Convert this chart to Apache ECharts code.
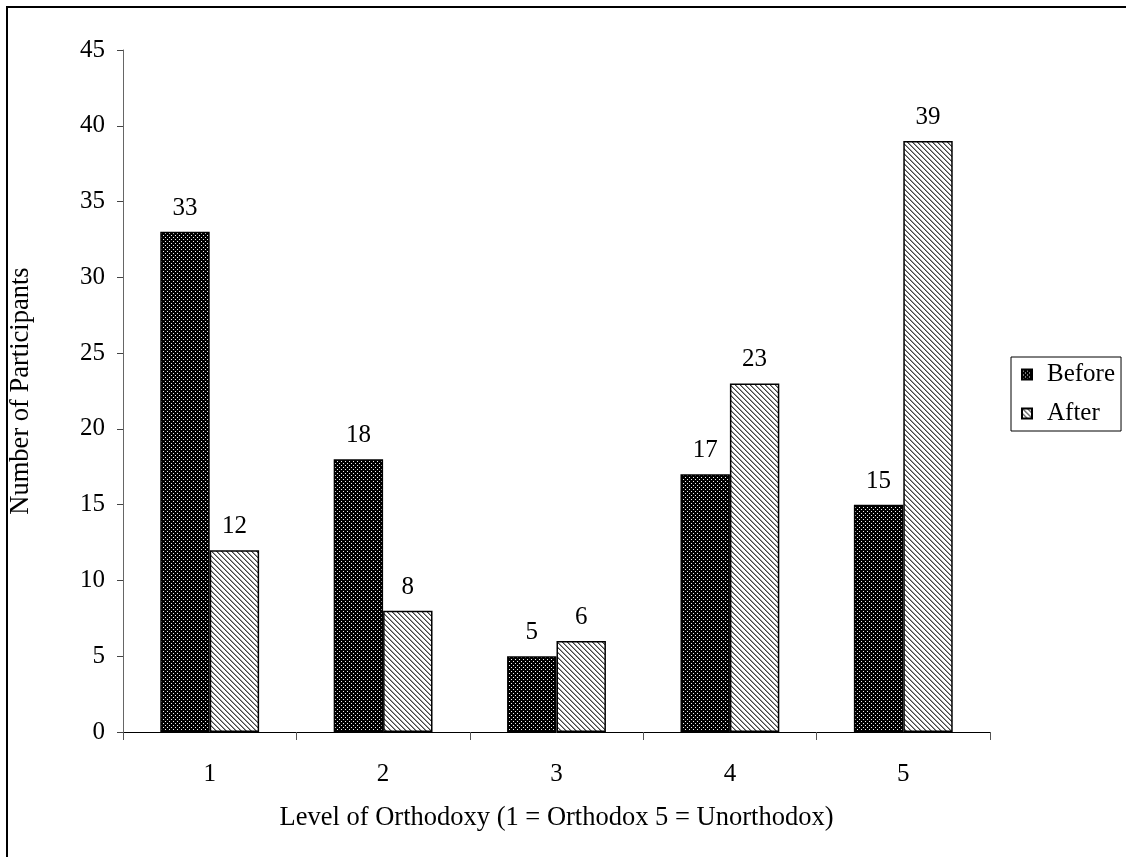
<!DOCTYPE html>
<html>
<head>
<meta charset="utf-8">
<script src="https://cdn.jsdelivr.net/npm/echarts@6/dist/echarts.min.js"></script>
<style>
html,body{margin:0;padding:0;background:#fff;}
#chart{width:1126px;height:857px;}
</style>
</head>
<body>
<div id="chart"></div>
<script>
const categories = ['1', '2', '3', '4', '5'];
const beforeValues = [33, 18, 5, 17, 15];
const afterValues = [12, 8, 6, 23, 39];
const seriesNames = ['Before', 'After'];
const xAxisTitle = 'Level of Orthodoxy (1 = Orthodox 5 = Unorthodox)';
const yAxisTitle = 'Number of Participants';

function dotPattern() {
  const c = document.createElement('canvas');
  c.width = 4; c.height = 4;
  const g = c.getContext('2d');
  g.fillStyle = '#000'; g.fillRect(0, 0, 4, 4);
  g.fillStyle = '#f0f0f0';
  g.fillRect(1, 1, 1, 1);
  g.fillRect(3, 3, 1, 1);
  return c;
}
function stripePattern() {
  const n = 5;
  const c = document.createElement('canvas');
  c.width = n; c.height = n;
  const g = c.getContext('2d');
  g.fillStyle = '#fff'; g.fillRect(0, 0, n, n);
  for (let i = 0; i < n; i++) {
    g.fillStyle = '#444';
    g.fillRect(i, i, 1, 1);
    g.fillStyle = '#999';
    g.fillRect((i + 1) % n, i, 1, 1);
  }
  return c;
}

const font = '"Liberation Serif", "Times New Roman", serif';
const fs = 25;
const fsTitle = 26.5;
const chart = echarts.init(document.getElementById('chart'), null, {renderer: 'canvas'});
chart.setOption({
  animation: false,
  backgroundColor: '#fff',
  textStyle: {fontFamily: font, color: '#000'},
  graphic: [{
    type: 'rect',
    shape: {x: 7, y: 7, width: 1300, height: 1000},
    style: {fill: 'none', stroke: '#000', lineWidth: 2},
    silent: true
  }],
  grid: {left: 123, right: 136, top: 50, bottom: 125, containLabel: false},
  legend: {
    orient: 'vertical',
    left: 1011,
    top: 357,
    padding: [5, 6, 5, 10],
    itemGap: 14,
    itemWidth: 10,
    itemHeight: 10,
    borderColor: '#000',
    borderWidth: 1,
    textStyle: {fontFamily: font, fontSize: fs, color: '#000', padding: [0, 0, 0, 10]},
    data: seriesNames.map(n => ({name: n, icon: 'rect'}))
  },
  xAxis: {
    type: 'category',
    data: categories,
    name: xAxisTitle,
    nameLocation: 'middle',
    nameGap: 73,
    nameTextStyle: {fontFamily: font, fontSize: fsTitle, color: '#000'},
    axisLine: {lineStyle: {color: '#000', width: 1}},
    axisTick: {show: true, length: 8, lineStyle: {color: '#555'}},
    axisLabel: {fontFamily: font, fontSize: fs, color: '#000', margin: 30},
    splitLine: {show: false}
  },
  yAxis: {
    type: 'value',
    min: 0,
    max: 45,
    interval: 5,
    name: yAxisTitle,
    nameLocation: 'middle',
    nameGap: 88,
    nameTextStyle: {fontFamily: font, fontSize: fsTitle, color: '#000'},
    axisLine: {show: true, lineStyle: {color: '#666', width: 1}},
    axisTick: {show: true, length: 6, lineStyle: {color: '#444'}},
    axisLabel: {fontFamily: font, fontSize: fs, color: '#000', margin: 18},
    splitLine: {show: false}
  },
  series: [
    {
      name: seriesNames[0],
      type: 'bar',
      data: beforeValues,
      barGap: '0%',
      barCategoryGap: '43%',
      itemStyle: {color: {image: dotPattern(), repeat: 'repeat'}, borderColor: '#000', borderWidth: 1.5},
      label: {show: true, position: 'top', distance: 11, fontFamily: font, fontSize: fs, color: '#000'}
    },
    {
      name: seriesNames[1],
      type: 'bar',
      data: afterValues,
      barGap: '0%',
      barCategoryGap: '43%',
      itemStyle: {color: {image: stripePattern(), repeat: 'repeat'}, borderColor: '#000', borderWidth: 1.5},
      label: {show: true, position: 'top', distance: 11, fontFamily: font, fontSize: fs, color: '#000'}
    }
  ]
});
</script>
</body>
</html>
